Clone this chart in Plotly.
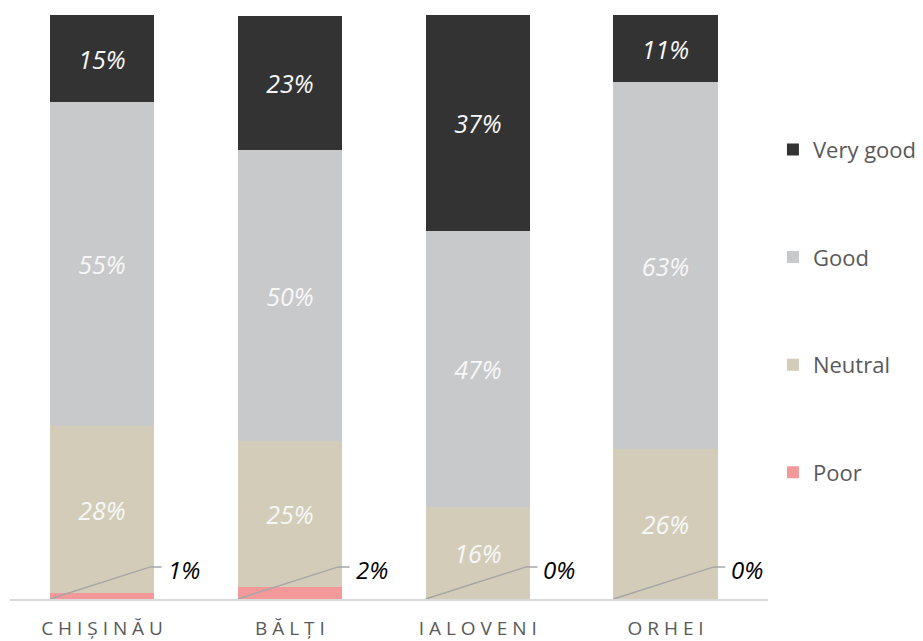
import plotly.graph_objects as go

cities = ["CHIȘINĂU", "BĂLȚI", "IALOVENI", "ORHEI"]
poor = [1.0, 2.0, 0.0, 0.0]
neutral = [28.6, 25.0, 15.8, 25.7]
good = [55.5, 49.8, 47.3, 62.8]
very_good = [14.9, 23.1, 37.0, 11.5]

poor_lbl = ["1%", "2%", "0%", "0%"]
neutral_lbl = ["28%", "25%", "16%", "26%"]
good_lbl = ["55%", "50%", "47%", "63%"]
vgood_lbl = ["15%", "23%", "37%", "11%"]

series = [
    ("Poor", poor, None, "#f4999a", 4),
    ("Neutral", neutral, neutral_lbl, "#d3ccb9", 3),
    ("Good", good, good_lbl, "#c8c9cb", 2),
    ("Very good", very_good, vgood_lbl, "#333333", 1),
]

FONT = "Open Sans"
W = 0.555
xs = list(range(len(cities)))

fig = go.Figure()
for name, vals, lbls, col, rank in series:
    fig.add_trace(go.Bar(
        x=xs, y=vals, name=name, width=W, legendgroup=name, legendrank=rank,
        marker=dict(color=col, line=dict(width=0)),
        text=lbls if lbls else None,
        textposition="inside" if lbls else "none",
        insidetextanchor="middle", textangle=0,
        textfont=dict(family=FONT, size=25, color="#f7f7f7", style="italic"),
        hoverinfo="skip",
    ))

# leader lines for the "Poor" labels
lx, ly = [], []
for i, v in enumerate(poor):
    lx += [i - W / 2, i + W / 2 - 0.02, i + W / 2 + 0.04, None]
    ly += [0, 5.5, 5.5, None]
fig.add_trace(go.Scatter(x=lx, y=ly, mode="lines", showlegend=False,
                         line=dict(color="#a6a6a6", width=1.5), hoverinfo="skip"))
for i, t in enumerate(poor_lbl):
    fig.add_annotation(x=i + W / 2 + 0.04, y=5.0, text=t, showarrow=False,
                       xanchor="left", yanchor="middle", xshift=4,
                       font=dict(family=FONT, size=24, color="black", style="italic"))

spaced = [" ".join(c) for c in cities]

fig.update_layout(
    width=915, height=633,
    margin=dict(l=2, r=155, t=7, b=42, autoexpand=False),
    barmode="stack", bargap=0,
    plot_bgcolor="white", paper_bgcolor="white",
    font=dict(family=FONT, color="#595959"),
    showlegend=True,
    legend=dict(
        xref="container", yref="container", x=0.836, y=0.521,
        xanchor="left", yanchor="middle",
        traceorder="grouped", tracegroupgap=76, maxheight=1,
        font=dict(family=FONT, size=22, color="#595959"),
        itemwidth=30,
    ),
    xaxis=dict(
        tickmode="array", tickvals=xs, ticktext=spaced,
        range=[-0.49, 3.545], showgrid=False, zeroline=False,
        showline=True, linecolor="#d9d9d9", linewidth=2,
        ticks="", ticklabelstandoff=11,
        tickfont=dict(family=FONT, size=19, color="#595959"),
    ),
    yaxis=dict(range=[0, 100], visible=False, showgrid=False, zeroline=False),
)

fig.write_html("out.html")
